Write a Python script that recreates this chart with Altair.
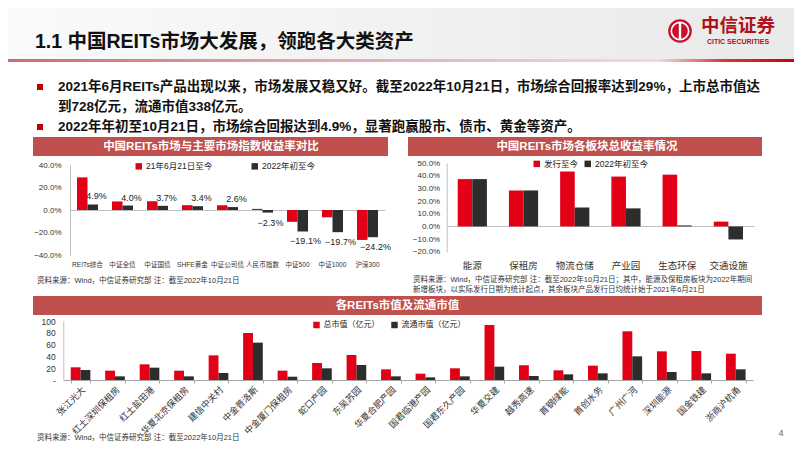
import altair as alt
import pandas as pd

# ---------------- data ----------------
c1_cats = ["REITs综合", "中证全债", "中证国债", "SHFE黄金", "中证公司债", "人民币指数", "中证500", "中证1000", "沪深300"]
c1_series = ["21年6月21日至今", "2022年初至今"]
c1_since = [29.0, 7.6, 7.8, 4.3, 4.2, 1.0, -10.5, -6.5, -26.6]
c1_ytd = [4.9, 4.0, 3.7, 3.4, 2.6, -2.3, -19.1, -19.7, -24.2]

c2_cats = ["能源", "保租房", "物流仓储", "产业园", "生态环保", "交通设施"]
c2_series = ["发行至今", "2022年初至今"]
c2_since = [37.5, 28.5, 43.5, 39.5, 41.0, 3.8]
c2_ytd = [37.5, 28.5, 15.0, 14.3, 0.8, -10.3]

c3_cats = ["张江光大", "红土深圳保租房", "红土盐田港", "华夏北京保租房", "建信中关村", "中金普洛斯",
           "中金厦门保租房", "蛇口产园", "东吴苏园", "华夏合肥产园", "国君临港产园", "国君东久产园",
           "华夏交建", "越秀高速", "首钢绿能", "首创水务", "广州广河", "深圳能源", "国金铁建", "浙商沪杭甬"]
c3_series = ["总市值（亿元）", "流通市值（亿元）"]
c3_total = [21.5, 15.8, 26.6, 15.8, 41.8, 79.7, 15.8, 28.8, 42.4, 18.0, 10.7, 19.8, 93.2, 24.9, 16.4, 24.3, 82.5, 48.6, 49.2, 44.6]
c3_float = [17.0, 6.2, 20.9, 6.2, 11.9, 63.3, 5.6, 19.8, 25.4, 6.2, 4.5, 6.2, 22.6, 6.8, 9.6, 11.3, 40.1, 13.6, 11.3, 18.1]

title_text = "1.1 中国REITs市场大发展，领跑各大类资产"
bullet1_l1 = "2021年6月REITs产品出现以来，市场发展又稳又好。截至2022年10月21日，市场综合回报率达到29%，上市总市值达"
bullet1_l2 = "到728亿元，流通市值338亿元。"
bullet2 = "2022年年初至10月21日，市场综合回报达到4.9%，显著跑赢股市、债市、黄金等资产。"
hdr1 = "中国REITs市场与主要市场指数收益率对比"
hdr2 = "中国REITs市场各板块总收益率情况"
hdr3 = "各REITs市值及流通市值"
note1 = "资料来源：Wind，中信证券研究部 注：截至2022年10月21日"
note2a = "资料来源：Wind，中信证券研究部 注：截至2022年10月21日；其中，能源及保租房板块为2022年期间"
note2b = "新增板块，以实际发行日期为统计起点，其余板块产品发行日均统计始于2021年6月21日"
note3 = "资料来源：Wind，中信证券研究部 注：截至2022年10月21日"


def long(cats, series, a, b):
    rows = [{"cat": c, "series": series[0], "value": v} for c, v in zip(cats, a)]
    rows += [{"cat": c, "series": series[1], "value": v} for c, v in zip(cats, b)]
    return pd.DataFrame(rows)


df1 = long(c1_cats, c1_series, c1_since, c1_ytd)
df2 = long(c2_cats, c2_series, c2_since, c2_ytd)
df3 = long(c3_cats, c3_series, c3_total, c3_float)

# ---------------- layout helpers ----------------
W, H = 786, 435
FONT = "Liberation Sans, Noto Sans CJK SC, sans-serif"
RED = "#E10016"
DARK = "#2D2D2D"
HDR = "#C0504D"
AX = "#BFBFBF"


def X(v):
    return v - 8


def Y(v):
    return v - 8


dummy = pd.DataFrame({"k": [0]})


def rect(x1, y1, x2, y2, **kw):
    return alt.Chart(dummy).mark_rect(**kw).encode(
        x=alt.value(X(x1)), x2=alt.value(X(x2)), y=alt.value(Y(y1)), y2=alt.value(Y(y2)))


def text(s, x, y, **kw):
    kw.setdefault("font", FONT)
    kw.setdefault("baseline", "middle")
    return alt.Chart(dummy).mark_text(text=s, **kw).encode(x=alt.value(X(x)), y=alt.value(Y(y)))


def legend(lx, ly, colpad, fs=8.5):
    return alt.Legend(orient="none", legendX=X(lx), legendY=Y(ly), direction="horizontal", title=None,
                      symbolType="square", symbolSize=42, symbolStrokeWidth=0, labelFontSize=fs,
                      labelFont=FONT, labelColor="#222222", columnPadding=colpad, labelOffset=3, padding=0)


def yaxis(ax_x, values, expr, pad, fs=8.5):
    return alt.Axis(orient="left", offset=-X(ax_x), values=values, labelExpr=expr, grid=False, ticks=False,
                    domainColor=AX, labelPadding=pad, labelFontSize=fs, labelFont=FONT,
                    labelColor="#333333", title=None)


def xaxis(zero_y, pad, fs):
    return alt.Axis(orient="bottom", offset=Y(zero_y) - H, domain=True, domainColor=AX, ticks=False,
                    labelAngle=0, labelPadding=pad, labelFontSize=fs, labelFont=FONT,
                    labelColor="#333333", labelOverlap=False, title=None)


pct = "format(datum.value, '.1f') + '%'"

# ---------------- panel 1 ----------------
def sx1():
    return alt.Scale(domain=c1_cats, range=[X(70), X(385)], paddingInner=0.4, paddingOuter=0.2)


def sy1():
    return alt.Scale(domain=[-40, 40], range=[Y(255), Y(165)], nice=False, zero=False)


so1 = alt.Scale(domain=c1_series)
sc1 = alt.Scale(domain=c1_series, range=[RED, DARK])

bars1 = alt.Chart(df1).mark_bar().encode(
    x=alt.X("cat:N", scale=sx1(), axis=xaxis(210, 51, 6.6)),
    xOffset=alt.XOffset("series:N", scale=so1),
    y=alt.Y("value:Q", scale=sy1(), axis=yaxis(70, [-40, -20, 0, 20, 40], pct, 9, 8)),
    color=alt.Color("series:N", scale=sc1, legend=legend(134.5, 162, 38)),
)
lab1 = alt.Chart(df1).transform_filter(alt.datum.series == c1_series[1]).transform_calculate(
    lbl="format(datum.value, '.1f') + '%'")
lab1p = lab1.transform_filter("datum.value >= 0").mark_text(
    dy=-8, dx=9, fontSize=9, font=FONT, color="#222222").encode(
    x=alt.X("cat:N", scale=sx1(), axis=None), y=alt.Y("value:Q", scale=sy1(), axis=None), text="lbl:N")
lab1n = lab1.transform_filter("datum.value < 0").mark_text(
    dy=10, dx=8, fontSize=9, font=FONT, color="#222222").encode(
    x=alt.X("cat:N", scale=sx1(), axis=None), y=alt.Y("value:Q", scale=sy1(), axis=None), text="lbl:N")

# ---------------- panel 2 ----------------
sx2 = alt.Scale(domain=c2_cats, range=[X(446.7), X(754)], paddingInner=0.43, paddingOuter=0.215)
sy2 = alt.Scale(domain=[-20, 50], range=[Y(251.7), Y(163.3)], nice=False, zero=False)
so2 = alt.Scale(domain=c2_series)
sc2 = alt.Scale(domain=c2_series, range=[RED, DARK])

panel2 = alt.Chart(df2).mark_bar().encode(
    x=alt.X("cat:N", scale=sx2, axis=xaxis(226, 34.5, 9.5)),
    xOffset=alt.XOffset("series:N", scale=so2),
    y=alt.Y("value:Q", scale=sy2, axis=yaxis(446.7, list(range(-20, 51, 10)), pct, 7, 8)),
    color=alt.Color("series:N", scale=sc2, legend=legend(532.5, 159.5, 5)),
)

# ---------------- panel 3 ----------------
sx3 = alt.Scale(domain=c3_cats, range=[X(63.3), X(753)], paddingInner=0.43, paddingOuter=0.215)
sy3 = alt.Scale(domain=[0, 100], range=[Y(380), Y(321)], nice=False)
so3 = alt.Scale(domain=c3_series)
sc3 = alt.Scale(domain=c3_series, range=[RED, DARK])

panel3 = alt.Chart(df3).mark_bar().encode(
    x=alt.X("cat:N", scale=sx3, axis=alt.Axis(orient="bottom", offset=Y(380) - H, domain=True, domainColor="#A6A6A6",
                                              ticks=True, tickBand="extent", tickSize=3, tickColor="#A6A6A6",
                                              labelAngle=-45, labelPadding=2, labelFontSize=9, labelFont=FONT,
                                              labelColor="#333333", labelOverlap=False, title=None)),
    xOffset=alt.XOffset("series:N", scale=so3),
    y=alt.Y("value:Q", scale=sy3, axis=yaxis(63.3, [0, 20, 40, 60, 80, 100],
                                              "datum.value == 0 ? '-' : datum.label", 8)),
    color=alt.Color("series:N", scale=sc3, legend=legend(312.5, 321, 11, 8)),
)

# ---------------- decorations ----------------
hdr_grad = alt.LinearGradient(gradient="linear", x1=0, x2=1, y1=0, y2=0,
                              stops=[alt.GradientStop(color="#FAFAFA", offset=0),
                                     alt.GradientStop(color="#E9E9E9", offset=1)])
line_grad = alt.LinearGradient(gradient="linear", x1=0, x2=1, y1=0, y2=0,
                               stops=[alt.GradientStop(color="#CD6A72", offset=0),
                                      alt.GradientStop(color="#DFA4A8", offset=0.35),
                                      alt.GradientStop(color="#F2DADA", offset=0.82),
                                      alt.GradientStop(color="#D43A3A", offset=0.9),
                                      alt.GradientStop(color="#C00000", offset=1)])

decor = [
    rect(8, 8, 802, 59, fill=hdr_grad),
    rect(8, 59, 802, 62, fill=line_grad),
    text(title_text, 35, 42, align="left", fontSize=19.5, fontWeight="bold", color="#111111"),
    # logo
    alt.Chart(dummy).mark_point(shape="circle", filled=True, size=560, color="#C8102E", opacity=1).encode(
        x=alt.value(X(680)), y=alt.value(Y(31))),
    alt.Chart(dummy).mark_point(shape="circle", filled=False, size=300, color="white", strokeWidth=1.6,
                                opacity=1).encode(x=alt.value(X(680)), y=alt.value(Y(31))),
    rect(678.8, 22, 681.2, 40, fill="white"),
    text("中信证券", 738, 26, align="center", fontSize=18.5, fontWeight="bold", color="#B0121B",
         font="Noto Sans CJK SC"),
    text("CITIC SECURITIES", 738, 41.5, align="center", fontSize=7, fontWeight="bold", color="#B0121B"),
    # bullets
    rect(37, 84, 43, 90, fill="#C00000"),
    rect(37, 124, 43, 130, fill="#C00000"),
    text(bullet1_l1, 58, 87, align="left", fontSize=13.5, fontWeight="bold", color="#111111"),
    text(bullet1_l2, 58, 106.5, align="left", fontSize=13.5, fontWeight="bold", color="#111111"),
    text(bullet2, 58, 127, align="left", fontSize=13.5, fontWeight="bold", color="#111111"),
    # panel header bars
    rect(33, 137, 388, 156, fill=HDR),
    rect(408, 137, 762, 156, fill=HDR),
    rect(33, 296, 762, 315, fill=HDR),
    text(hdr1, 211, 146.5, align="center", fontSize=11.5, fontWeight="bold", color="white"),
    text(hdr2, 587, 146.5, align="center", fontSize=11.5, fontWeight="bold", color="white"),
    text(hdr3, 397.5, 305.5, align="center", fontSize=11.5, fontWeight="bold", color="white"),
    # notes
    text(note1, 37, 281, align="left", fontSize=7.5, color="#333333"),
    text(note2a, 413, 280, align="left", fontSize=7.5, color="#333333"),
    text(note2b, 413, 290, align="left", fontSize=7.5, color="#333333"),
    text(note3, 37, 438, align="left", fontSize=7.5, color="#333333"),
    text("4", 781, 433, align="center", fontSize=9, color="#666666"),
]

chart = alt.layer(*decor, bars1, lab1p, lab1n, panel2, panel3).resolve_scale(
    x="independent", y="independent", color="independent", xOffset="independent"
).properties(
    width=W, height=H, padding=0, autosize=alt.AutoSizeParams(type="none"), background="white"
).configure_view(stroke=None)

chart.save("out.html", embed_options={"renderer": "svg", "actions": False})
